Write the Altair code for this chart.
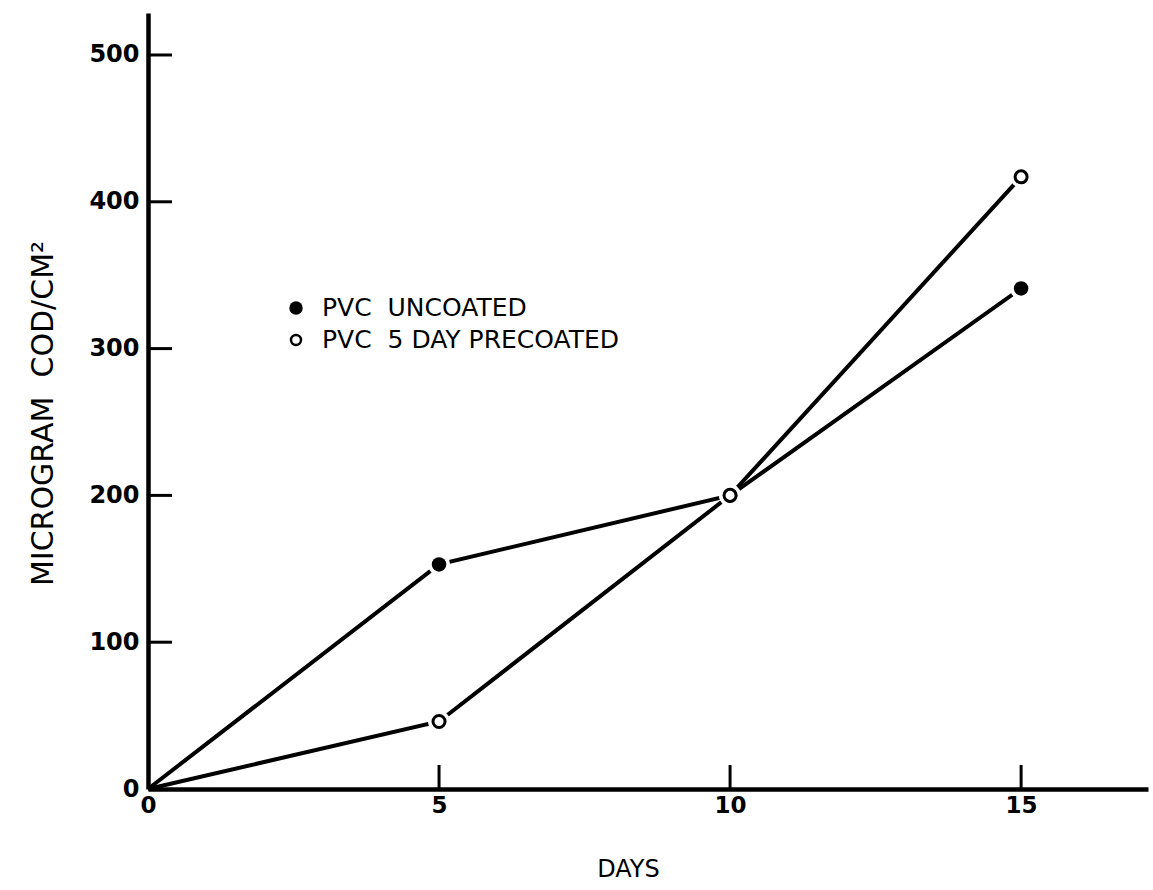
import altair as alt
import pandas as pd

# ---- data ----
DAYS = [0, 5, 10, 15]
UNCOATED = [0, 153, 200, 341]
PRECOATED = [0, 46, 200, 417]
NB = "\u00a0"
SERIES = ["PVC" + NB + NB + "UNCOATED", "PVC" + NB + NB + "5 DAY PRECOATED"]
X_TICKS = [0, 5, 10, 15]
Y_TICKS = [0, 100, 200, 300, 400, 500]
X_TITLE = "DAYS"
Y_TITLE = "MICROGRAM" + NB + NB + "COD/CM²"

rows = []
for s, vals in zip(SERIES, [UNCOATED, PRECOATED]):
    for d, v in zip(DAYS, vals):
        rows.append({"series": s, "day": d, "value": v})
df = pd.DataFrame(rows)
pts = df[df["day"] > 0]
unc_pts = pts[pts["series"] == SERIES[0]]
pre_pts = pts[pts["series"] == SERIES[1]]

W, H = 1000, 776
FONT = "DejaVu Sans"

xs = alt.Scale(domain=[0, 17.18], nice=False, zero=False)
ys = alt.Scale(domain=[0, 528.6], nice=False, zero=False)

x_axis = alt.Axis(
    values=X_TICKS, ticks=False, grid=False,
    domainWidth=4.5, domainColor="black",
    labelFont=FONT, labelFontSize=23, labelFontWeight="bold", labelColor="black",
    labelPadding=5, labelFlush=False, labelOverlap=False, labelBound=False,
    title=X_TITLE, titleFont=FONT, titleFontSize=24, titleFontWeight="normal",
    titleColor="black", titleX=480, titleY=80, titleAlign="center",
    titleBaseline="middle", titleAngle=0,
)
y_axis = alt.Axis(
    values=Y_TICKS, ticks=False, grid=False,
    domainWidth=4.5, domainColor="black",
    labelFont=FONT, labelFontSize=24, labelFontWeight="bold", labelColor="black",
    labelPadding=9, labelFlush=False, labelOverlap=False, labelBound=False,
    title=Y_TITLE, titleFont=FONT, titleFontSize=30, titleFontWeight="normal",
    titleColor="black", titleX=-105, titleY=400, titleAlign="center",
    titleBaseline="middle", titleAngle=270,
)


def X(field):
    return alt.X(field, scale=xs, axis=x_axis)


def Y(field):
    return alt.Y(field, scale=ys, axis=y_axis)


lines = alt.Chart(df).mark_line(color="black", strokeWidth=4).encode(
    x=X("day:Q"), y=Y("value:Q"), detail="series:N", order="day:Q",
)

halo = alt.Chart(pts).mark_circle(size=480, color="white", opacity=1).encode(
    x=X("day:Q"), y=Y("value:Q"),
)
filled = alt.Chart(unc_pts).mark_circle(size=210, color="black", opacity=1).encode(
    x=X("day:Q"), y=Y("value:Q"),
)
opened = alt.Chart(pre_pts).mark_circle(
    size=145, fill="white", stroke="black", strokeWidth=3, opacity=1
).encode(
    x=X("day:Q"), y=Y("value:Q"),
)

# inward tick marks
yticks = alt.Chart(pd.DataFrame({"v": Y_TICKS[1:]})).mark_rule(
    color="black", strokeWidth=3
).encode(
    y=Y("v:Q"), x=alt.value(0), x2=alt.value(24),
)
xticks = alt.Chart(pd.DataFrame({"v": X_TICKS[1:]})).mark_rule(
    color="black", strokeWidth=3
).encode(
    x=X("v:Q"), y=alt.value(H), y2=alt.value(H - 24),
)

# manual legend
leg_df0 = pd.DataFrame({"t": [SERIES[0]]})
leg_df1 = pd.DataFrame({"t": [SERIES[1]]})
leg_dot = alt.Chart(leg_df0).mark_circle(size=180, color="black", opacity=1).encode(
    x=alt.value(148), y=alt.value(295)
)
leg_ring = alt.Chart(leg_df1).mark_circle(
    size=100, fill="white", stroke="black", strokeWidth=2.5, opacity=1
).encode(x=alt.value(148), y=alt.value(327))
leg_t0 = alt.Chart(leg_df0).mark_text(
    align="left", baseline="middle", font=FONT, fontSize=25, color="black"
).encode(text="t:N", x=alt.value(174), y=alt.value(295))
leg_t1 = alt.Chart(leg_df1).mark_text(
    align="left", baseline="middle", font=FONT, fontSize=25, color="black"
).encode(text="t:N", x=alt.value(174), y=alt.value(327))

chart = alt.layer(
    lines, yticks, xticks, halo, filled, opened,
    leg_dot, leg_ring, leg_t0, leg_t1,
).properties(
    width=W, height=H,
    autosize=alt.AutoSizeParams(type="none"),
    padding={"left": 148, "top": 13, "right": 5, "bottom": 101},
    background="white",
).configure_view(stroke=None)

chart.save("out.html", embed_options={"renderer": "svg", "actions": False})
